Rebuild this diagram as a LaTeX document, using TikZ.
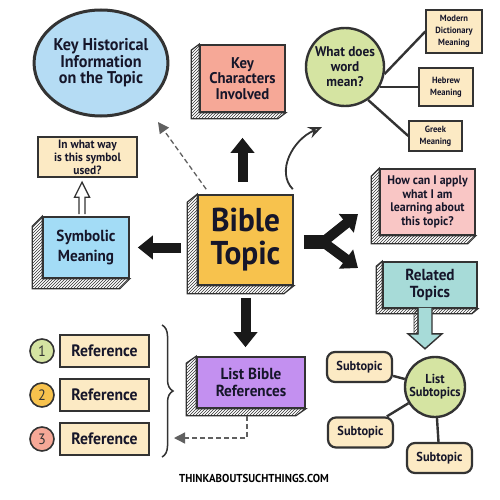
\documentclass[tikz,border=0pt]{standalone}
\usepackage{fontspec}
\setmainfont{PT Sans}[FakeStretch=0.95]
\usetikzlibrary{arrows.meta,shapes.geometric,patterns,decorations.pathreplacing}

\definecolor{inkline}{HTML}{333333}
\definecolor{inktext}{HTML}{16162A}
\definecolor{histblue}{HTML}{B5DCF4}
\definecolor{symblue}{HTML}{A3DCF6}
\definecolor{salmon}{HTML}{F6A897}
\definecolor{sage}{HTML}{D5E4A2}
\definecolor{cream}{HTML}{FCEAC4}
\definecolor{gold}{HTML}{F7C24D}
\definecolor{blush}{HTML}{F9C6C5}
\definecolor{tealish}{HTML}{A7DBD8}
\definecolor{lavender}{HTML}{C390F0}

\newcommand\txtsize[2]{\fontsize{#1}{#2}\selectfont\bfseries}

\tikzset{
	facebox/.style={draw=inkline, line width=1.6pt, inner sep=0pt, align=center, text=inktext},
	notebox/.style={draw=inkline, line width=1.4pt, fill=cream, inner sep=0pt, align=center, text=inktext},
	bubble/.style={circle, draw=inkline, line width=2.4pt, inner sep=0pt, align=center, text=inktext},
	pill/.style={draw=inkline, line width=2.2pt, rounded corners=8pt, fill=cream, minimum width=65pt, minimum height=30pt, text=inktext, font=\txtsize{13}{14}},
	hatchside/.style={draw=inkline, line width=1.2pt, pattern=north east lines, pattern color=inkline},
	bigarrow/.style={draw=black!90, line width=10pt, -{Triangle[width=23pt,length=15pt]}},
	thinlink/.style={draw=inkline, line width=2.4pt},
	dashlink/.style={draw=gray!75!black, line width=1.3pt, dash pattern=on 5pt off 3pt, -{Triangle[width=11pt,length=11pt]}},
	curvelink/.style={draw=inkline, line width=1.8pt, -{Stealth[length=14pt,width=12pt,inset=5pt,fill=gray!50]}},
}

% hatched side and bottom behind a box
\newcommand\extrude[3]{%
	\draw[hatchside] (#1.north west) -- ++(#2,#3) -- ([shift={(#2,#3)}]#1.south west)
		-- ([shift={(#2,#3)}]#1.south east) -- (#1.south east) -- (#1.south west) -- cycle;
}

\begin{document}
\begin{tikzpicture}[x=1pt,y=-1pt]
	\useasboundingbox (0,0) rectangle (500,500);
	\fill[white] (0,0) rectangle (500,500);

	% Main topic
	\node[facebox, fill=gold, minimum width=95pt, minimum height=90pt, font=\txtsize{33}{33}] (bible) at (245.5,240) {Bible\\Topic};
	\extrude{bible}{-10}{8}

	% Top row
	\node[ellipse, draw=inkline, line width=3pt, fill=histblue, minimum width=122pt, minimum height=106pt, inner sep=0pt, align=center, text=inktext, font=\txtsize{17}{16.5}] (hist) at (101,63) {Key Historical\\Information\\on the Topic};
	\node[facebox, fill=salmon, minimum width=85pt, minimum height=67pt, font=\txtsize{15.5}{15.5}] (chars) at (242.5,78.5) {Key\\Characters\\Involved};
	\extrude{chars}{-8}{6}
	\node[bubble, fill=sage, minimum size=78pt, font=\txtsize{14}{15}] (word) at (345,67) {What does\\word\\mean?};
	\node[notebox, minimum width=56pt, minimum height=43pt, font=\txtsize{9}{12}] (modern) at (454,31.5) {Modern\\Dictionary\\Meaning};
	\node[notebox, minimum width=54pt, minimum height=38pt, font=\txtsize{9}{12}] (hebrew) at (446,87) {Hebrew\\Meaning};
	\node[notebox, minimum width=53pt, minimum height=30pt, font=\txtsize{9}{12}] (greek) at (435.5,136) {Greek\\Meaning};

	\draw[thinlink] (word.-10) -- (modern.west);
	\draw[thinlink] (word.-30) -- (word.-30 -| hebrew.west);
	\draw[thinlink] (word.-55) -- (greek.west);

	% Left side
	\node[notebox, minimum width=99pt, minimum height=40pt, font=\txtsize{12}{13}] (usage) at (87.5,157) {In what way\\is this symbol\\used?};
	\node[facebox, fill=symblue, minimum width=86pt, minimum height=61pt, font=\txtsize{16}{20}] (symb) at (86,247.5) {Symbolic\\Meaning};
	\extrude{symb}{-10}{10}
	\draw[inkline, line width=1.3pt, fill=white] ([shift={(-7,-2)}]symb.north) -- ([shift={(-7,-19)}]symb.north)
		-- ([shift={(-11.5,-19)}]symb.north) -- ([shift={(-4,-34)}]symb.north) -- ([shift={(3.5,-19)}]symb.north)
		-- ([shift={(-1,-19)}]symb.north) -- ([shift={(-1,-2)}]symb.north);

	% Right side
	\node[facebox, fill=blush, minimum width=95pt, minimum height=66pt, font=\txtsize{12.5}{13.5}] (apply) at (427.5,202) {How can I apply\\what I am\\learning about\\this topic?};
	\extrude{apply}{-8}{8}
	\node[facebox, fill=tealish, minimum width=94pt, minimum height=46pt, font=\txtsize{16}{17}] (related) at (430,285) {Related\\Topics};
	\extrude{related}{-6}{5}
	\draw[inkline, line width=1.4pt, fill=tealish] ([shift={(-12,-1)}]related.south) -- ([shift={(-12,25)}]related.south)
		-- ([shift={(-22,25)}]related.south) -- ([shift={(-5,40)}]related.south) -- ([shift={(12,25)}]related.south)
		-- ([shift={(2,25)}]related.south) -- ([shift={(2,-1)}]related.south);
	\draw[hatchside, line width=0.8pt] ([shift={(-12,0)}]related.south) -- ([shift={(-12,25)}]related.south)
		-- ([shift={(-16,25)}]related.south) -- ([shift={(-16,5)}]related.south) -- cycle;

	% Bottom
	\node[facebox, fill=lavender, minimum width=108pt, minimum height=51pt, font=\txtsize{16}{17}] (listref) at (251,382.5) {List Bible\\References};
	\extrude{listref}{-10}{7}

	\foreach \i/\y/\c in {1/351/sage,2/395/gold,3/439/salmon}{
		\node[bubble, fill=\c, minimum size=24pt, line width=1.6pt, font=\fontsize{15}{15}\selectfont, text=inkline] (num\i) at (42,\y) {\i};
		\node[notebox, minimum width=89pt, minimum height=32pt, font=\txtsize{16.5}{16}] (ref\i) at (104.5,\y) {Reference};
	}

	\coordinate (brtop) at (162,325);
	\coordinate (brbot) at (162,457);
	\draw[inkline, line width=1.5pt, decorate, decoration={brace, amplitude=11pt}] (brtop) -- (brbot);

	% Subtopics
	\node[bubble, fill=sage, minimum size=60pt, font=\txtsize{13}{13}] (subs) at (435,387) {List\\Subtopics};
	\node[pill] (sub1) at (359.5,367) {Subtopic};
	\node[pill] (sub2) at (360.5,432.5) {Subtopic};
	\node[pill] (sub3) at (439.5,458) {Subtopic};
	\draw[thinlink] (subs) -- (sub1);
	\draw[thinlink] (subs) -- (sub2);
	\draw[thinlink] (subs) -- (sub3);

	% Arrows out of the main topic
	\draw[bigarrow, shorten <=12pt, shorten >=25pt] (chars.south |- bible.north) -- (chars.south);
	\draw[bigarrow, shorten <=16pt, shorten >=8pt] (bible.west |- symb.east) -- (symb.east);
	\draw[bigarrow, shorten <=12pt, shorten >=9pt] (bible.south) -- (bible.south |- listref.north);

	\coordinate (fork) at (327,242);
	\coordinate (forkup) at (358,214);
	\coordinate (forkdn) at (358,268);
	\draw[black!90, line width=14pt, shorten <=10pt] (bible.east |- fork) -- (fork);
	\draw[bigarrow] ([shift={(-4,0)}]fork) -- (forkup);
	\draw[bigarrow] ([shift={(-4,0)}]fork) -- (forkdn);

	\coordinate (histtip) at (158,122);
	\draw[dashlink] ([shift={(9,-5)}]bible.north west) -- (histtip);
	\coordinate (wordtip) at (322,127);
	\draw[curvelink] ([shift={(-1,-5)}]bible.north east) .. controls (276,172) and (292,140) .. (wordtip);
	\coordinate (brtip) at (174,438);
	\draw[dashlink] ([shift={(-4,7)}]listref.south) |- (brtip);

	% Site name
	\node[font=\txtsize{11.5}{12}, text=black] (site) at (254,478) {THINKABOUTSUCHTHINGS.COM};

\end{tikzpicture}
\end{document}
